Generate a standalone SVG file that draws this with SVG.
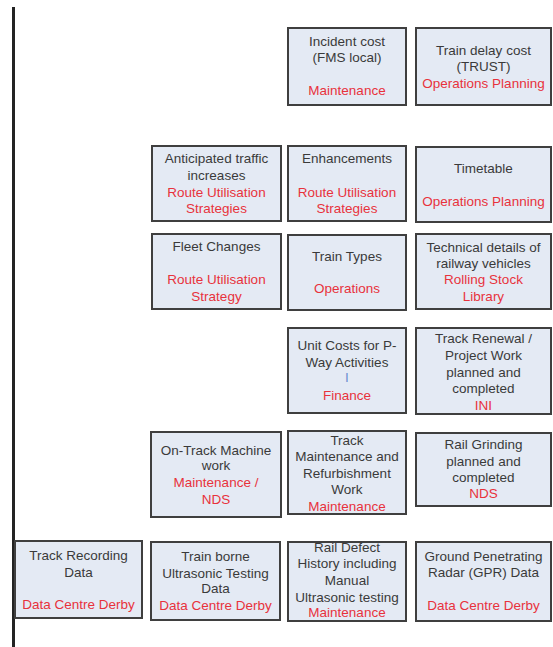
<svg xmlns="http://www.w3.org/2000/svg" width="553" height="647" viewBox="0 0 553 647">
  <style>
    .box { fill: #e4eaf4; stroke: #3f3f3f; stroke-width: 2; }
    text { font-family: "Liberation Sans", Arial, sans-serif; font-size: 13.5px; text-anchor: middle; }
    .t { fill: #3a3a3a; }
    .r { fill: #e8323c; }
    .b { fill: #6a8fd0; }
  </style>
  <defs>
    <clipPath id="clipDefect"><rect x="288" y="543" width="117" height="77"/></clipPath>
  </defs>
  <rect width="553" height="647" fill="#ffffff"/>

  <!-- timeline axis -->
  <g id="axis">
    <line x1="13.5" y1="7" x2="13.5" y2="647" stroke="#232323" stroke-width="3"/>
  </g>

  <!-- row 1 -->
  <g id="incident-cost">
    <rect class="box" x="288" y="28" width="118" height="77"/>
    <text class="t" x="347" y="46">Incident cost</text>
    <text class="t" x="347" y="62">(FMS local)</text>
    <text class="r" x="347" y="95">Maintenance</text>
  </g>
  <g id="train-delay-cost">
    <rect class="box" x="416" y="28" width="135" height="77"/>
    <text class="t" x="483.5" y="55">Train delay cost</text>
    <text class="t" x="483.5" y="71">(TRUST)</text>
    <text class="r" x="483.5" y="88">Operations Planning</text>
  </g>

  <!-- row 2 -->
  <g id="anticipated-traffic">
    <rect class="box" x="152" y="146" width="129" height="75"/>
    <text class="t" x="216.5" y="163">Anticipated traffic</text>
    <text class="t" x="216.5" y="180">increases</text>
    <text class="r" x="216.5" y="197">Route Utilisation</text>
    <text class="r" x="216.5" y="213">Strategies</text>
  </g>
  <g id="enhancements">
    <rect class="box" x="288" y="146" width="118" height="75"/>
    <text class="t" x="347" y="163">Enhancements</text>
    <text class="r" x="347" y="197">Route Utilisation</text>
    <text class="r" x="347" y="213">Strategies</text>
  </g>
  <g id="timetable">
    <rect class="box" x="416" y="147" width="135" height="75"/>
    <text class="t" x="483.5" y="173">Timetable</text>
    <text class="r" x="483.5" y="206">Operations Planning</text>
  </g>

  <!-- row 3 -->
  <g id="fleet-changes">
    <rect class="box" x="152" y="234" width="129" height="75"/>
    <text class="t" x="216.5" y="251">Fleet Changes</text>
    <text class="r" x="216.5" y="284">Route Utilisation</text>
    <text class="r" x="216.5" y="301">Strategy</text>
  </g>
  <g id="train-types">
    <rect class="box" x="288" y="235" width="118" height="75"/>
    <text class="t" x="347" y="261">Train Types</text>
    <text class="r" x="347" y="293">Operations</text>
  </g>
  <g id="technical-details">
    <rect class="box" x="416" y="234" width="135" height="75"/>
    <text class="t" x="483.5" y="252">Technical details of</text>
    <text class="t" x="483.5" y="268">railway vehicles</text>
    <text class="r" x="483.5" y="284">Rolling Stock</text>
    <text class="r" x="483.5" y="301">Library</text>
  </g>

  <!-- row 4 -->
  <g id="unit-costs">
    <rect class="box" x="288" y="328" width="118" height="85"/>
    <text class="t" x="347" y="350">Unit Costs for P-</text>
    <text class="t" x="347" y="367">Way Activities</text>
    <text class="b" x="347" y="382">I</text>
    <text class="r" x="347" y="400">Finance</text>
  </g>
  <g id="track-renewal">
    <rect class="box" x="416" y="328" width="135" height="86"/>
    <text class="t" x="483.5" y="343">Track Renewal /</text>
    <text class="t" x="483.5" y="360">Project Work</text>
    <text class="t" x="483.5" y="377">planned and</text>
    <text class="t" x="483.5" y="393">completed</text>
    <text class="r" x="483.5" y="410">INI</text>
  </g>

  <!-- row 5 -->
  <g id="on-track-machine">
    <rect class="box" x="151" y="432" width="130" height="85"/>
    <text class="t" x="216" y="455">On-Track Machine</text>
    <text class="t" x="216" y="470">work</text>
    <text class="r" x="216" y="487">Maintenance /</text>
    <text class="r" x="216" y="504">NDS</text>
  </g>
  <g id="track-maintenance">
    <rect class="box" x="288" y="431" width="118" height="83"/>
    <text class="t" x="347" y="445">Track</text>
    <text class="t" x="347" y="461">Maintenance and</text>
    <text class="t" x="347" y="478">Refurbishment</text>
    <text class="t" x="347" y="494">Work</text>
    <text class="r" x="347" y="511">Maintenance</text>
  </g>
  <g id="rail-grinding">
    <rect class="box" x="416" y="433" width="135" height="73"/>
    <text class="t" x="483.5" y="449">Rail Grinding</text>
    <text class="t" x="483.5" y="466">planned and</text>
    <text class="t" x="483.5" y="482">completed</text>
    <text class="r" x="483.5" y="498">NDS</text>
  </g>

  <!-- row 6 -->
  <g id="track-recording">
    <rect class="box" x="15" y="541" width="127" height="77"/>
    <text class="t" x="78.5" y="560">Track Recording</text>
    <text class="t" x="78.5" y="577">Data</text>
    <text class="r" x="78.5" y="609">Data Centre Derby</text>
  </g>
  <g id="train-borne-ut">
    <rect class="box" x="151" y="542" width="129" height="78"/>
    <text class="t" x="215.5" y="561">Train borne</text>
    <text class="t" x="215.5" y="578">Ultrasonic Testing</text>
    <text class="t" x="215.5" y="593">Data</text>
    <text class="r" x="215.5" y="610">Data Centre Derby</text>
  </g>
  <g id="rail-defect">
    <rect class="box" x="288" y="542" width="118" height="79"/>
    <g clip-path="url(#clipDefect)">
      <text class="t" x="347" y="552">Rail Defect</text>
      <text class="t" x="347" y="568">History including</text>
      <text class="t" x="347" y="585">Manual</text>
      <text class="t" x="347" y="602">Ultrasonic testing</text>
      <text class="r" x="347" y="617">Maintenance</text>
    </g>
  </g>
  <g id="ground-penetrating-radar">
    <rect class="box" x="416" y="542" width="135" height="79"/>
    <text class="t" x="483.5" y="561">Ground Penetrating</text>
    <text class="t" x="483.5" y="577">Radar (GPR) Data</text>
    <text class="r" x="483.5" y="610">Data Centre Derby</text>
  </g>
</svg>
